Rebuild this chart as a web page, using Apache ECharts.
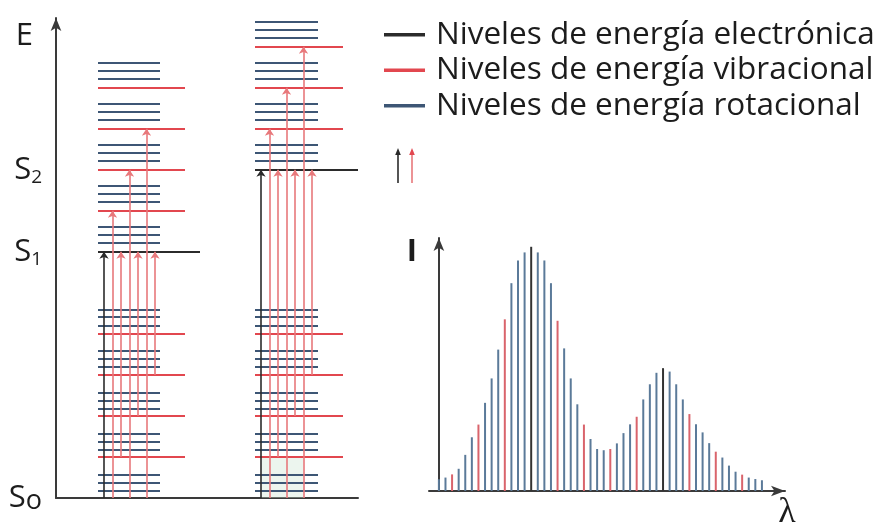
<!DOCTYPE html>
<html>
<head>
<meta charset="utf-8">
<script src="https://cdn.jsdelivr.net/npm/echarts@6/dist/echarts.min.js"></script>
<style>
  html, body { margin: 0; padding: 0; background: #ffffff; }
  #chart { width: 884px; height: 531px; }
</style>
</head>
<body>
<div id="chart"></div>
<script>
// ---- Energy diagram data (energies in vibrational quanta above S0) ----
const stateEnergy = [0, 6, 8];
const stateSymbol = ['S', 'S', 'S'];
const stateIndex = ['o', '1', '2'];

// Ground electronic state manifold (same in both columns)
const groundVibLevels = [1, 2, 3, 4];
const groundRotLevels = [0.17, 0.37, 0.56, 1.17, 1.37, 1.57, 2.17, 2.37, 2.56,
                         3.19, 3.40, 3.59, 4.20, 4.41, 4.59];

// S1 manifold
const s1VibLevels = [7, 8, 9, 10];
const s1RotLevels = [6.21, 6.41, 6.60, 7.21, 7.41, 7.61, 8.21, 8.41, 8.61,
                     9.21, 9.41, 9.61, 10.21, 10.41, 10.61];

// S2 manifold
const s2VibLevels = [9, 10, 11];
const s2RotLevels = [8.21, 8.41, 8.61, 9.21, 9.42, 9.61, 10.22, 10.42, 10.62,
                     11.22, 11.42, 11.62];

// Absorption transitions [from, to]; the first one is the pure electronic jump
const s1Transitions = [[0, 6], [0, 7], [1, 6], [0, 8], [2, 6], [0, 9], [3, 6]];
const s2Transitions = [[0, 8], [0, 9], [1, 8], [0, 10], [2, 8], [0, 11], [3, 8]];

// ---- Absorption spectrum ----
const spectrumIntensity = [4.8, 5.5, 6.8, 9.1, 14.8, 22.0, 27.2, 36.1, 46.1, 57.9,
                           70.3, 85.1, 94.4, 97.7, 100.0, 97.7, 94.4, 85.1, 69.7, 58.4,
                           46.1, 35.5, 27.2, 21.3, 17.2, 16.7, 17.2, 19.5, 23.7, 27.3,
                           30.4, 37.5, 43.7, 48.4, 50.3, 48.9, 43.7, 37.5, 31.5, 27.3,
                           24.0, 19.6, 16.1, 13.7, 10.4, 7.9, 6.7, 5.5, 4.9, 4.4];
const spectrumKind = ['rot', 'rot', 'vib', 'rot', 'rot', 'rot', 'vib', 'rot', 'rot', 'rot',
                      'vib', 'rot', 'rot', 'rot', 'elec', 'rot', 'rot', 'rot', 'vib', 'rot',
                      'rot', 'rot', 'vib', 'rot', 'rot', 'rot', 'vib', 'rot', 'rot', 'rot',
                      'vib', 'rot', 'rot', 'rot', 'elec', 'rot', 'rot', 'rot', 'vib', 'rot',
                      'rot', 'rot', 'vib', 'rot', 'rot', 'rot', 'vib', 'rot', 'rot', 'rot'];

const legendNames = ['Niveles de energía electrónica',
                     'Niveles de energía vibracional',
                     'Niveles de energía rotacional'];

// ---- Horizontal layout of the two level columns (diagram x units) ----
const colLeft  = { x0: 42,  rotX1: 104, vibX1: 129, elecX1: 144,
                   arrowX: [48, 56.5, 65, 73.5, 82, 90.5, 99] };
const colRight = { x0: 199, rotX1: 262, vibX1: 287, elecX1: 302,
                   arrowX: [205, 213.5, 222, 230.5, 239, 247.5, 256] };

const colors = {
  elec: '#2b2b2b',
  vib: '#e2474f',
  rot: '#3d5675',
  arrowRed: '#e8787b',
  barRot: '#5b7a99',
  barVib: '#d9646c',
  barElec: '#333333',
  axis: '#3a3a3a',
  text: '#1c1c1c'
};
const FONT = 'Open Sans';

function hLines(levels, x0, x1) {
  return levels.map(e => ({ coords: [[x0, e], [x1, e]] }));
}
function arrowLines(trans, xs) {
  return trans.map((t, i) => ({ coords: [[xs[i], t[0]], [xs[i], t[1]]] }));
}

const elecData = [
  { coords: [[colLeft.x0, stateEnergy[1]], [colLeft.elecX1, stateEnergy[1]]] },
  { coords: [[colRight.x0, stateEnergy[2]], [colRight.elecX1, stateEnergy[2]]] }
];
const vibData = [].concat(
  hLines(groundVibLevels, colLeft.x0, colLeft.vibX1),
  hLines(s1VibLevels, colLeft.x0, colLeft.vibX1),
  hLines(groundVibLevels, colRight.x0, colRight.vibX1),
  hLines(s2VibLevels, colRight.x0, colRight.vibX1)
);
const rotData = [].concat(
  hLines(groundRotLevels, colLeft.x0, colLeft.rotX1),
  hLines(s1RotLevels, colLeft.x0, colLeft.rotX1),
  hLines(groundRotLevels, colRight.x0, colRight.rotX1),
  hLines(s2RotLevels, colRight.x0, colRight.rotX1)
);
const leftArrows = arrowLines(s1Transitions, colLeft.arrowX);
const rightArrows = arrowLines(s2Transitions, colRight.arrowX);
const blackArrows = [leftArrows[0], rightArrows[0]];
const redArrows = leftArrows.slice(1).concat(rightArrows.slice(1));

const barColor = { rot: colors.barRot, vib: colors.barVib, elec: colors.barElec };

const chart = echarts.init(document.getElementById('chart'), null, { renderer: 'canvas' });

const levelSeries = (name, data, color, z) => ({
  name: name,
  type: 'lines',
  coordinateSystem: 'cartesian2d',
  xAxisIndex: 0,
  yAxisIndex: 0,
  polyline: false,
  silent: true,
  z: z,
  symbol: ['none', 'none'],
  lineStyle: { color: color, width: 2, opacity: 1 },
  itemStyle: { color: color },
  data: data
});

const arrowSeries = (name, data, color, z) => ({
  name: name,
  type: 'lines',
  coordinateSystem: 'cartesian2d',
  xAxisIndex: 0,
  yAxisIndex: 0,
  polyline: false,
  silent: true,
  z: z,
  symbol: ['none', 'arrow'],
  symbolSize: 7,
  lineStyle: { color: color, width: 1.6, opacity: 1 },
  data: data
});

const option = {
  animation: false,
  backgroundColor: '#ffffff',
  textStyle: { fontFamily: FONT },
  grid: [
    { left: 56, right: 526, top: 18, bottom: 33, containLabel: false },
    { left: 429, right: 99, top: 238, bottom: 34, containLabel: false }
  ],
  legend: {
    orient: 'vertical',
    left: 384,
    top: 17,
    padding: 0,
    itemWidth: 39,
    itemHeight: 1.5,
    itemGap: 0,
    icon: 'rect',
    selectedMode: false,
    textStyle: { fontFamily: FONT, fontSize: 31.5, color: colors.text, lineHeight: 35.5, padding: [0, 0, 0, 7] },
    data: [
      { name: legendNames[0], itemStyle: { color: colors.elec } },
      { name: legendNames[1], itemStyle: { color: colors.vib } },
      { name: legendNames[2], itemStyle: { color: colors.rot } }
    ]
  },
  xAxis: [
    {
      type: 'value', gridIndex: 0, min: 0, max: 302,
      axisLine: { show: true, lineStyle: { color: colors.axis, width: 2 } },
      axisTick: { show: false }, axisLabel: { show: false }, splitLine: { show: false }
    },
    {
      type: 'value', gridIndex: 1, min: -1.5, max: 52.5,
      name: 'λ', nameLocation: 'end', nameGap: 2,
      nameTextStyle: { fontFamily: 'Liberation Serif', fontSize: 36, color: colors.text,
                       align: 'center', verticalAlign: 'top', padding: [4, 0, 0, 0] },
      axisLine: { show: true, symbol: ['none', 'arrow'], symbolSize: [8, 14],
                  lineStyle: { color: colors.axis, width: 2 } },
      axisTick: { show: false }, axisLabel: { show: false }, splitLine: { show: false }
    }
  ],
  yAxis: [
    {
      type: 'value', gridIndex: 0, min: 0, max: 11.7,
      name: 'E', nameLocation: 'end', nameGap: -3,
      nameTextStyle: { fontFamily: FONT, fontSize: 31, color: colors.text,
                       align: 'right', verticalAlign: 'top', padding: [0, 23, 0, 0] },
      axisLine: { show: true, symbol: ['none', 'arrow'], symbolSize: [8, 13],
                  lineStyle: { color: colors.axis, width: 2 } },
      axisTick: { show: false },
      splitLine: { show: false },
      axisLabel: {
        show: true,
        customValues: stateEnergy,
        margin: 14,
        formatter: function (v) {
          const i = stateEnergy.indexOf(v);
          if (i < 0) return '';
          const sub = stateIndex[i];
          const style = /[0-9]/.test(sub) ? 'n' : 'o';
          return '{s|' + stateSymbol[i] + '}{' + style + '|' + sub + '}';
        },
        rich: {
          s: { fontFamily: FONT, fontSize: 31, color: colors.text, lineHeight: 34 },
          n: { fontFamily: FONT, fontSize: 19, color: colors.text, verticalAlign: 'bottom', lineHeight: 20 },
          o: { fontFamily: FONT, fontSize: 27, color: colors.text, verticalAlign: 'bottom', lineHeight: 26 }
        }
      }
    },
    {
      type: 'value', gridIndex: 1, min: 0, max: 103.6,
      name: 'I', nameLocation: 'end', nameGap: 1,
      nameTextStyle: { fontFamily: FONT, fontSize: 31, fontWeight: 'bold', color: colors.text,
                       align: 'right', verticalAlign: 'top', padding: [0, 22, 0, 0] },
      axisLine: { show: true, symbol: ['none', 'arrow'], symbolSize: [8, 13],
                  lineStyle: { color: colors.axis, width: 2 } },
      axisTick: { show: false }, axisLabel: { show: false }, splitLine: { show: false }
    }
  ],
  graphic: [
    {
      type: 'group', x: 394, y: 148, silent: true,
      children: [
        { type: 'line', shape: { x1: 4, y1: 5, x2: 4, y2: 35 }, style: { stroke: colors.elec, lineWidth: 1.6 } },
        { type: 'polygon', shape: { points: [[4, 0], [1.2, 7], [6.8, 7]] }, style: { fill: colors.elec } },
        { type: 'line', shape: { x1: 18, y1: 5, x2: 18, y2: 35 }, style: { stroke: colors.arrowRed, lineWidth: 1.6 } },
        { type: 'polygon', shape: { points: [[18, 0], [15.2, 7], [20.8, 7]] }, style: { fill: colors.vib } }
      ]
    }
  ],
  series: [
    Object.assign(levelSeries(legendNames[2], rotData, colors.rot, 2), {
      markArea: {
        silent: true,
        itemStyle: { color: 'rgba(200, 226, 206, 0.35)' },
        data: [[
          { coord: [colRight.arrowX[0], groundVibLevels[0] - 1] },
          { coord: [colRight.arrowX[5], groundVibLevels[0]] }
        ]]
      }
    }),
    levelSeries(legendNames[1], vibData, colors.vib, 3),
    levelSeries(legendNames[0], elecData, colors.elec, 4),
    arrowSeries('Transiciones vibrónicas', redArrows, colors.arrowRed, 5),
    arrowSeries('Transiciones electrónicas', blackArrows, colors.elec, 6),
    {
      name: 'Espectro',
      type: 'bar',
      xAxisIndex: 1,
      yAxisIndex: 1,
      barWidth: 2,
      silent: true,
      data: spectrumIntensity.map((v, i) => ({
        value: [i, v],
        itemStyle: { color: barColor[spectrumKind[i]] }
      }))
    }
  ]
};

chart.setOption(option);
</script>
</body>
</html>
